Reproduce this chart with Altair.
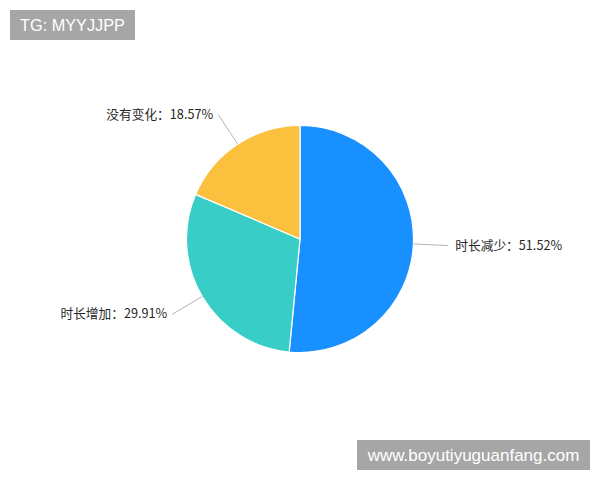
import altair as alt
import pandas as pd

# ---- data ----
categories = ["时长减少", "时长增加", "没有变化"]
values = [51.52, 29.91, 18.57]
order_idx = [0, 1, 2]
colors = ["#1890FF", "#38CDC7", "#FBC03E"]
watermark_top = ["TG: MYYJJPP"]
watermark_bottom = ["www.boyutiyuguanfang.com"]

W, H = 584, 462
CX, CY = W / 2, H / 2 - 0.5
R = 113.5
R_OUT = R + 35

df = pd.DataFrame({"cat": categories, "val": values, "idx": order_idx})

pie = alt.Chart(df).mark_arc(radius=R, stroke="white", strokeWidth=1.2).encode(
    theta=alt.Theta("val:Q", stack=True),
    color=alt.Color("cat:N", scale=alt.Scale(domain=categories, range=colors), legend=None),
    order=alt.Order("idx:Q"),
)

geo = (
    alt.Chart(df)
    .transform_joinaggregate(total="sum(val)")
    .transform_window(cum="sum(val)", sort=[alt.SortField("idx")], frame=[None, 0])
    .transform_calculate(mid="2*PI*(datum.cum - datum.val/2)/datum.total")
    .transform_calculate(x1=f"{CX}+{R}*sin(datum.mid)")
    .transform_calculate(y1=f"{CY}-{R}*cos(datum.mid)")
    .transform_calculate(x2=f"{CX}+{R_OUT}*sin(datum.mid)")
    .transform_calculate(y2=f"{CY}-{R_OUT}*cos(datum.mid)")
    .transform_calculate(label="datum.cat + '：' + format(datum.val, '.2f') + '%'")
    .transform_calculate(side="sin(datum.mid) >= 0 ? 'r' : 'l'")
)

leaders = geo.mark_rule(color="#B5B5B5", strokeWidth=1).encode(
    x=alt.X("x1:Q", scale=None, axis=None),
    y=alt.Y("y1:Q", scale=None, axis=None),
    x2="x2:Q",
    y2="y2:Q",
)

text_style = dict(font="Noto Sans CJK SC", fontSize=12.7, color="#262626", baseline="middle")

labels_r = geo.transform_filter("datum.side == 'r'").mark_text(align="left", dx=7, **text_style).encode(
    x=alt.X("x2:Q", scale=None, axis=None),
    y=alt.Y("y2:Q", scale=None, axis=None),
    text="label:N",
)
labels_l = geo.transform_filter("datum.side == 'l'").mark_text(align="right", dx=-5, **text_style).encode(
    x=alt.X("x2:Q", scale=None, axis=None),
    y=alt.Y("y2:Q", scale=None, axis=None),
    text="label:N",
)

wm1 = pd.DataFrame({"t": watermark_top})
wm2 = pd.DataFrame({"t": watermark_bottom})
wm_top_box = alt.Chart(wm1).mark_rect(color="#A6A6A6").encode(
    x=alt.value(2), x2=alt.value(127), y=alt.value(2), y2=alt.value(32)
)
wm_top_text = alt.Chart(wm1).mark_text(
    font="Liberation Sans", fontSize=16.3, color="white", align="center", baseline="middle"
).encode(x=alt.value(64.5), y=alt.value(17.5), text="t:N")
wm_bot_box = alt.Chart(wm2).mark_rect(color="#A6A6A6").encode(
    x=alt.value(349), x2=alt.value(582), y=alt.value(432), y2=alt.value(462)
)
wm_bot_text = alt.Chart(wm2).mark_text(
    font="Liberation Sans", fontSize=17, color="white", align="center", baseline="middle"
).encode(x=alt.value(465.5), y=alt.value(447.5), text="t:N")

chart = (
    alt.layer(pie, leaders, labels_r, labels_l, wm_top_box, wm_top_text, wm_bot_box, wm_bot_text)
    .properties(width=W, height=H, padding=0, autosize=alt.AutoSizeParams(type="none"))
    .configure_view(stroke=None)
)

chart.save("out.html", embed_options={"renderer": "svg", "actions": False})
